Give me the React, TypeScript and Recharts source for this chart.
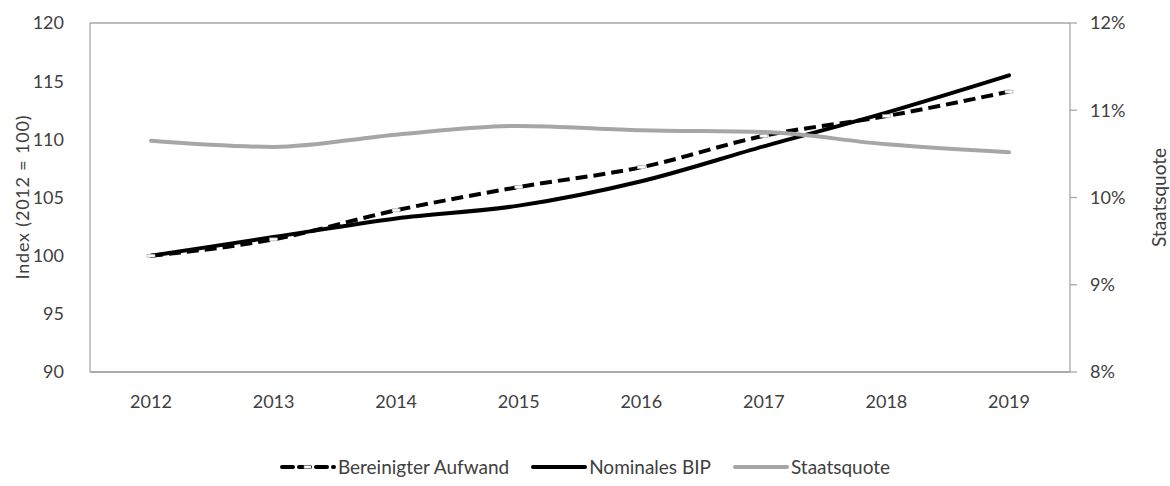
import React from 'react'
import {
  LineChart,
  Line,
  XAxis,
  YAxis,
  CartesianGrid,
  Legend,
} from 'recharts'

const years = ['2012', '2013', '2014', '2015', '2016', '2017', '2018', '2019']
const bereinigterAufwand = [100, 101.4, 103.9, 105.9, 107.6, 110.3, 112.0, 114.1]
const nominalesBip = [100, 101.6, 103.2, 104.3, 106.4, 109.4, 112.3, 115.5]
const staatsquote = [10.65, 10.58, 10.72, 10.82, 10.77, 10.75, 10.61, 10.52]
const indexTicks = [90, 95, 100, 105, 110, 115, 120]
const quoteTicks = [8, 9, 10, 11, 12]

const FONT = 'Lato, "Open Sans", sans-serif'
const TEXT = '#404040'
const GRID = '#a6a6a6'

const data = years.map((y, i) => ({
  year: y,
  aufwand: bereinigterAufwand[i],
  bip: nominalesBip[i],
  quote: staatsquote[i],
}))

const legendItems = [
  { label: 'Bereinigter Aufwand', color: '#000', dash: '11 6', marker: true },
  { label: 'Nominales BIP', color: '#000', dash: undefined, marker: false },
  { label: 'Staatsquote', color: '#a6a6a6', dash: undefined, marker: false },
]

function LegendContent() {
  return (
    <div style={{ display: 'flex', justifyContent: 'center', gap: 22, fontFamily: FONT, fontSize: 19, color: TEXT }}>
      {legendItems.map((it) => (
        <div key={it.label} style={{ display: 'flex', alignItems: 'center' }}>
          <svg width={56} height={10} style={{ marginRight: 2 }}>
            <line x1={2} y1={5} x2={54} y2={5} stroke={it.color} strokeWidth={4} strokeDasharray={it.dash} strokeLinecap="round" />
            {it.marker && <rect x={24} y={3.5} width={7} height={3} fill="#fff" stroke="#888" strokeWidth={0.6} />}
          </svg>
          <span>{it.label}</span>
        </div>
      ))}
    </div>
  )
}

function DashMarker(props: any) {
  const { cx, cy } = props
  if (cx == null || cy == null) return null
  return <rect x={cx - 4} y={cy - 1.5} width={8} height={3} fill="#fff" stroke="#999" strokeWidth={0.6} />
}

function LeftLabel(props: any) {
  const { viewBox } = props
  const cy = viewBox.y + viewBox.height / 2
  const x = 22
  return (
    <text x={x} y={cy} transform={`rotate(-90, ${x}, ${cy})`} textAnchor="middle" dominantBaseline="central"
      fill={TEXT} fontSize={18} fontFamily={FONT} textLength={164} lengthAdjust="spacing">
      Index (2012 = 100)
    </text>
  )
}

function RightLabel(props: any) {
  const { viewBox } = props
  const cy = viewBox.y + viewBox.height / 2
  const x = 1158
  return (
    <text x={x} y={cy} transform={`rotate(-90, ${x}, ${cy})`} textAnchor="middle" dominantBaseline="central"
      fill={TEXT} fontSize={19} fontFamily={FONT}>
      Staatsquote
    </text>
  )
}

export default function App() {
  return (
    <div style={{ position: 'absolute', left: 0, top: 0, background: '#fff' }}>
      <LineChart width={1170} height={486} data={data} margin={{ top: 23, right: 0, left: 0, bottom: 8 }}>
        <CartesianGrid vertical={false} stroke={GRID} strokeWidth={1.3} />
        <XAxis
          dataKey="year"
          tick={{ fill: TEXT, fontSize: 18, fontFamily: FONT }}
          tickLine={false}
          axisLine={{ stroke: GRID, strokeWidth: 1.3 }}
          padding={{ left: 61, right: 61 }}
          tickMargin={17}
          height={44}
        />
        <YAxis
          yAxisId="left"
          domain={[90, 120]}
          ticks={indexTicks}
          width={90}
          tick={{ fill: TEXT, fontSize: 18, fontFamily: FONT }}
          tickLine={false}
          axisLine={{ stroke: GRID, strokeWidth: 1.3 }}
          tickMargin={20}
          label={<LeftLabel />}
        />
        <YAxis
          yAxisId="right"
          orientation="right"
          domain={[8, 12]}
          ticks={quoteTicks}
          width={100}
          tickFormatter={(v: number) => `${v}%`}
          tick={{ fill: TEXT, fontSize: 18, fontFamily: FONT }}
          tickLine={{ stroke: GRID, strokeWidth: 1.3 }}
          tickSize={7}
          axisLine={{ stroke: GRID, strokeWidth: 1.3 }}
          tickMargin={13}
          label={<RightLabel />}
        />
        <Legend
          verticalAlign="bottom"
          height={62}
          content={<LegendContent />}
          wrapperStyle={{ top: 455, bottom: 'auto', left: 0, width: 1170 }}
        />
        <Line
          yAxisId="left"
          type="monotone"
          dataKey="aufwand"
          stroke="#000"
          strokeWidth={4}
          strokeDasharray="12 6"
          dot={<DashMarker />}
          activeDot={false}
          isAnimationActive={false}
        />
        <Line
          yAxisId="left"
          type="monotone"
          dataKey="bip"
          stroke="#000"
          strokeWidth={4}
          strokeLinecap="round"
          dot={false}
          activeDot={false}
          isAnimationActive={false}
        />
        <Line
          yAxisId="right"
          type="monotone"
          dataKey="quote"
          stroke="#a6a6a6"
          strokeWidth={4}
          strokeLinecap="round"
          dot={false}
          activeDot={false}
          isAnimationActive={false}
        />
      </LineChart>
    </div>
  )
}
